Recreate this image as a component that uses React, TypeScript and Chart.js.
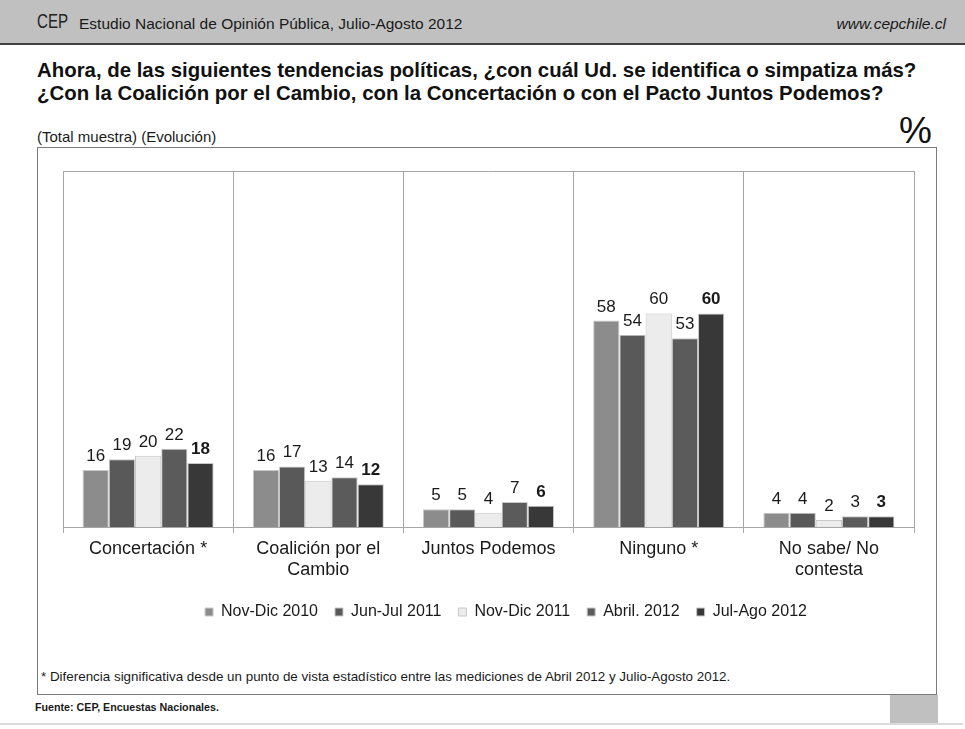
import React, { useEffect, useRef } from "react";
import { Chart, registerables } from "chart.js";

Chart.register(...registerables);

const categories = [["Concertación *"], ["Coalición por el", "Cambio"], ["Juntos Podemos"], ["Ninguno *"], ["No sabe/ No", "contesta"]];
const seriesNames = ["Nov-Dic 2010", "Jun-Jul 2011", "Nov-Dic 2011", "Abril. 2012", "Jul-Ago 2012"];
const novDic2010 = [16, 16, 5, 58, 4];
const junJul2011 = [19, 17, 5, 54, 4];
const novDic2011 = [20, 13, 4, 60, 2];
const abril2012 = [22, 14, 7, 53, 3];
const julAgo2012 = [18, 12, 6, 60, 3];
const seriesColors = ["#8c8c8c", "#595959", "#ececec", "#5b5b5b", "#383838"];
const yMin = 0;
const yMax = 100;

const FONT = '"Liberation Sans", Arial, Helvetica, sans-serif';

const valueLabels = {
  id: "valueLabels",
  afterDatasetsDraw(chart: any) {
    const ctx = chart.ctx;
    chart.data.datasets.forEach((ds: any, di: number) => {
      const meta = chart.getDatasetMeta(di);
      meta.data.forEach((el: any, i: number) => {
        ctx.save();
        ctx.font = (di === chart.data.datasets.length - 1 ? "bold " : "") + "17px " + FONT;
        ctx.fillStyle = "#1a1a1a";
        ctx.textAlign = "center";
        ctx.textBaseline = "alphabetic";
        ctx.fillText(String(ds.data[i]), el.x, el.y - 9);
        ctx.restore();
      });
    });
  },
};

const plotTopLine = {
  id: "plotTopLine",
  beforeDatasetsDraw(chart: any) {
    const { ctx, chartArea } = chart;
    ctx.save();
    ctx.strokeStyle = "#a6a6a6";
    ctx.lineWidth = 1;
    ctx.beginPath();
    ctx.moveTo(chartArea.left, Math.round(chartArea.top) + 0.5);
    ctx.lineTo(chartArea.right, Math.round(chartArea.top) + 0.5);
    ctx.stroke();
    ctx.restore();
  },
};

function BarChart() {
  const ref = useRef<HTMLCanvasElement | null>(null);
  useEffect(() => {
    if (!ref.current) return;
    const series = [novDic2010, junJul2011, novDic2011, abril2012, julAgo2012];
    const chart = new Chart(ref.current, {
      type: "bar",
      data: {
        labels: categories as any,
        datasets: series.map((d, i) => ({
          label: seriesNames[i],
          data: d,
          backgroundColor: seriesColors[i],
          borderColor: "#c8c8c8",
          borderWidth: 1,
          categoryPercentage: 0.77,
          barPercentage: 1.0,
          yAxisID: "y",
        })),
      },
      options: {
        animation: false,
        responsive: false,
        maintainAspectRatio: false,
        devicePixelRatio: 1,
        layout: { padding: { left: 0, right: 0, top: 24, bottom: 0 } },
        plugins: {
          legend: {
            position: "bottom",
            labels: {
              boxWidth: 8,
              boxHeight: 8,
              padding: 17,
              color: "#1a1a1a",
              font: { family: FONT, size: 16 },
            },
          },
          tooltip: { enabled: false },
          title: { display: false },
        },
        scales: {
          x: {
            grid: { color: "#a6a6a6", tickLength: 6, offset: true, lineWidth: 1 },
            border: { display: true, color: "#a6a6a6" },
            ticks: {
              color: "#1a1a1a",
              padding: 5,
              maxRotation: 0,
              autoSkip: false,
              font: { family: FONT, size: 18, lineHeight: 1.2 },
            },
            afterFit(scale: any) {
              scale.height = 60;
            },
          },
          y: {
            display: true,
            position: "left",
            min: yMin,
            max: yMax,
            grid: { display: false },
            border: { display: false },
            ticks: { display: false },
            afterFit(scale: any) {
              scale.width = 26;
            },
          },
          y2: {
            type: "linear",
            display: true,
            position: "right",
            min: yMin,
            max: yMax,
            grid: { display: false },
            border: { display: false },
            ticks: { display: false },
            afterFit(scale: any) {
              scale.width = 61;
            },
          },
        },
      },
      plugins: [valueLabels, plotTopLine],
    });
    return () => chart.destroy();
  }, []);
  return <canvas ref={ref} width={938} height={483} style={{ position: "absolute", left: 37, top: 147, width: 938, height: 483 }} />;
}

export default function App() {
  const abs = (s: any) => ({ position: "absolute", whiteSpace: "nowrap", fontFamily: FONT, color: "#1a1a1a", ...s });
  return (
    <div style={{ position: "absolute", left: 0, top: 0, width: 965, height: 729, background: "#ffffff", overflow: "hidden" }}>
      <div style={{ position: "absolute", left: 0, top: 0, width: 965, height: 43, background: "#c0c0c0", borderBottom: "2px solid #404040" }} />
      <div style={abs({ left: 37, top: 8, fontSize: 21, lineHeight: "26px", color: "#222", transform: "scaleX(0.72)", transformOrigin: "left center" })}>CEP</div>
      <div style={abs({ left: 79, top: 14, fontSize: 15.5, lineHeight: "20px" })}>Estudio Nacional de Opinión Pública, Julio-Agosto  2012</div>
      <div style={abs({ right: 19, top: 14, fontSize: 15.5, lineHeight: "20px", fontStyle: "italic" })}>www.cepchile.cl</div>
      <div style={abs({ left: 37, top: 59, fontSize: 20.4, lineHeight: "23px", fontWeight: "bold", color: "#111" })}>
        Ahora, de las siguientes tendencias políticas, ¿con cuál Ud. se identifica o simpatiza más?
        <br />
        ¿Con la Coalición por el Cambio, con la Concertación o con el Pacto Juntos Podemos?
      </div>
      <div style={abs({ left: 37, top: 128, fontSize: 15, lineHeight: "18px" })}>(Total muestra) (Evolución)</div>
      <div style={abs({ left: 899, top: 110, fontSize: 37, lineHeight: "42px", color: "#111" })}>%</div>
      <div style={{ position: "absolute", left: 37, top: 147, width: 898, height: 546, border: "1px solid #7a7a7a" }} />
      <BarChart />
      <div style={abs({ left: 41, top: 668, fontSize: 13.4, lineHeight: "18px" })}>
        * Diferencia significativa desde un punto de vista estadístico entre las mediciones de Abril 2012 y Julio-Agosto 2012.
      </div>
      <div style={abs({ left: 35, top: 700, fontSize: 10.7, lineHeight: "15px", fontWeight: "bold" })}>Fuente: CEP, Encuestas Nacionales.</div>
      <div style={{ position: "absolute", left: 890, top: 695, width: 48, height: 29, background: "#c0c0c0" }} />
      <div style={{ position: "absolute", left: 0, top: 723, width: 963, height: 2, background: "#dadada" }} />
    </div>
  );
}
